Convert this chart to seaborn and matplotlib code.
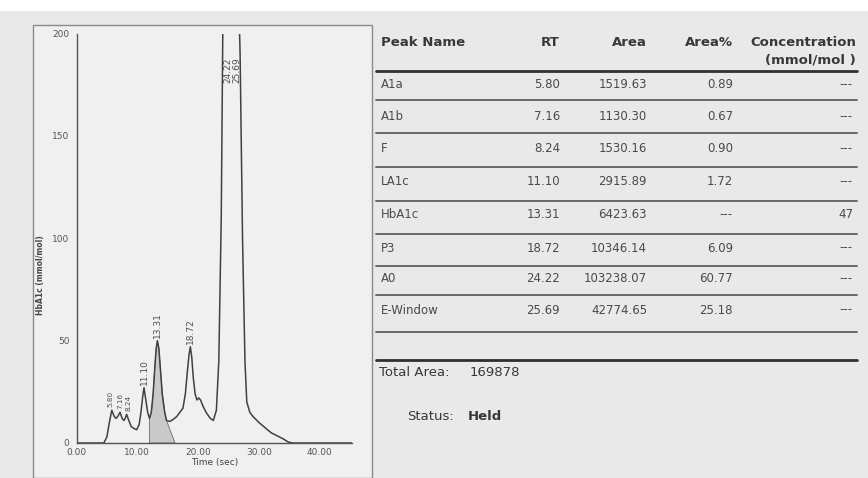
import numpy as np
import matplotlib
matplotlib.use("Agg")
import matplotlib.pyplot as plt
from matplotlib.lines import Line2D
from matplotlib.patches import Rectangle
import seaborn as sns

# ---- chromatogram trace (time in sec, signal in mmol/mol) ----
time = [0.0, 4.5, 5.0, 5.4, 5.8, 6.2, 6.5, 6.8, 7.16, 7.5, 7.8, 8.0, 8.24, 8.6,
        9.0, 9.5, 9.9, 10.3, 10.6, 10.9, 11.1, 11.35, 11.7, 12.0, 12.3, 12.6,
        12.9, 13.1, 13.31, 13.55, 13.8, 14.1, 14.5, 14.8, 15.3, 15.9, 16.5,
        17.0, 17.5, 17.9, 18.2, 18.5, 18.72, 18.95, 19.2, 19.5, 19.8, 20.1,
        20.4, 20.8, 21.3, 22.0, 22.5, 23.0, 23.4, 23.8, 24.22, 25.0, 25.69,
        26.4, 26.9, 27.3, 27.7, 28.0, 28.5, 29.0, 30.0, 31.0, 32.0, 33.0, 34.0,
        34.8, 35.5, 45.3]
signal = [0, 0, 3, 10, 16, 13, 12, 13, 15, 12, 11, 12, 14, 11,
          8, 7, 6.5, 9, 15, 23, 27, 22, 15, 12, 15, 24,
          38, 46, 50, 46, 36, 24, 15, 11, 10.5, 11.5, 13,
          15, 17, 24, 34, 43, 47, 42, 32, 24, 21, 22,
          21, 18, 15, 12, 11, 16, 40, 110, 260, 230, 290,
          250, 190, 100, 40, 20, 15, 13, 10, 7.5, 5, 3.5, 2,
          0.5, 0, 0]

# ---- peak table ----
peak_names = ["A1a", "A1b", "F", "LA1c", "HbA1c", "P3", "A0", "E-Window"]
peak_rt = [5.80, 7.16, 8.24, 11.10, 13.31, 18.72, 24.22, 25.69]
peak_area = ["1519.63", "1130.30", "1530.16", "2915.89", "6423.63",
             "10346.14", "103238.07", "42774.65"]
peak_area_pct = ["0.89", "0.67", "0.90", "1.72", "---", "6.09", "60.77", "25.18"]
peak_conc = ["---", "---", "---", "---", "47", "---", "---", "---"]
total_area = "169878"
status = "Held"

# HbA1c integration window (start, valley, end of baseline skim)
hba1c_start, hba1c_valley, hba1c_end = 12.0, 14.8, 16.2

W, H = 868, 478
sns.set_theme(style="white")
plt.rcParams["font.family"] = ["DejaVu Sans"]

page = "#e9e9e9"
ink = "#383838"
body = "#4a4a4a"
fig = plt.figure(figsize=(W / 100, H / 100), dpi=100, facecolor=page)


def fx(px):
    return px / W


def fy(py):
    return 1 - py / H


# white strip along the top edge of the sheet
fig.add_artist(Rectangle((0, fy(11)), 1, 11 / H, transform=fig.transFigure,
                         facecolor="white", edgecolor="none", zorder=0))
# frame around the chromatogram
fig.add_artist(Rectangle((fx(33), 0), fx(372 - 33), fy(25), transform=fig.transFigure,
                         facecolor="#f0f0f0", edgecolor="#8a8a8a", lw=1.0, zorder=0))

ax = fig.add_axes([fx(76.5), fy(443), fx(352 - 76.5), (443 - 33.5) / H])
ax.set_facecolor("none")

sns.lineplot(x=time, y=signal, ax=ax, color="#404040", lw=1.1, sort=False,
             estimator=None)

# shaded HbA1c peak with a straight skim to baseline
t_arr = np.array(time)
s_arr = np.array(signal, dtype=float)
m = (t_arr >= hba1c_start) & (t_arr <= hba1c_valley)
fill_t = np.concatenate([[hba1c_start], t_arr[m], [hba1c_end]])
fill_s = np.concatenate([[0], s_arr[m], [0]])
ax.fill(fill_t, fill_s, facecolor="#c9c9cc", edgecolor="#707070", lw=0.6, zorder=1)

ax.set_xlim(0, 45.3)
ax.set_ylim(0, 200)
ax.set_xticks([0, 10, 20, 30, 40])
ax.set_xticklabels(["0.00", "10.00", "20.00", "30.00", "40.00"])
ax.set_yticks([0, 50, 100, 150, 200])
ax.tick_params(axis="both", labelsize=6.5, colors="#555555", length=3, width=0.8,
               pad=2)
ax.tick_params(axis="x", direction="inout")
ax.tick_params(axis="y", direction="out")
for side in ["top", "right"]:
    ax.spines[side].set_visible(False)
for side in ["left", "bottom"]:
    ax.spines[side].set_color("#555555")
    ax.spines[side].set_linewidth(1.0)

ax.set_xlabel("Time (sec)", fontsize=6.5, color="#444444", labelpad=1)
fig.text(fx(40), fy(275), "HbA1c (mmol/mol)", rotation=90, fontsize=5.5,
         color="#444444", ha="center", va="center", fontweight="bold")

# retention-time labels above each peak
crowded = {5.80: -0.25, 7.16: 0.0, 8.24: 0.3}
for rt in peak_rt:
    h = float(np.interp(rt, t_arr, s_arr))
    if h > 190:
        ax.text(rt + 0.6, 176, f"{rt:.2f}", rotation=90, fontsize=6.5,
                color="#505050", ha="center", va="bottom")
    elif rt in crowded:
        ax.text(rt + crowded[rt], h + 1.5, f"{rt:.2f}", rotation=90, fontsize=5.2,
                color="#505050", ha="center", va="bottom")
    else:
        ax.text(rt, h + 1.5, f"{rt:.2f}", rotation=90, fontsize=6.5,
                color="#505050", ha="center", va="bottom")

# ---- table ----
hdr = dict(fontsize=9.5, fontweight="bold", color=ink, va="center")
hdr_y = 43
fig.text(fx(381), fy(hdr_y), "Peak Name", ha="left", **hdr)
fig.text(fx(560), fy(hdr_y), "RT", ha="right", **hdr)
fig.text(fx(647), fy(hdr_y), "Area", ha="right", **hdr)
fig.text(fx(733), fy(hdr_y), "Area%", ha="right", **hdr)
fig.text(fx(856), fy(hdr_y), "Concentration", ha="right", **hdr)
fig.text(fx(856), fy(60), "(mmol/mol )", ha="right", **hdr)


def hline(py, lw, color):
    fig.add_artist(Line2D([fx(376), fx(857)], [fy(py), fy(py)], lw=lw,
                          color=color, transform=fig.transFigure))


hline(71, 2.0, "#303030")
row_y = [85, 117, 149, 182, 215, 248, 279, 310]
line_y = [100, 133, 167, 201, 234, 266, 295, 332]
cell = dict(fontsize=8.5, color=body, va="center")
for i, name in enumerate(peak_names):
    y = row_y[i]
    fig.text(fx(381), fy(y), name, ha="left", **cell)
    fig.text(fx(560), fy(y), f"{peak_rt[i]:.2f}", ha="right", **cell)
    fig.text(fx(647), fy(y), peak_area[i], ha="right", **cell)
    fig.text(fx(733), fy(y), peak_area_pct[i], ha="right", **cell)
    fig.text(fx(853), fy(y), peak_conc[i], ha="right", **cell)
    hline(line_y[i], 1.4, "#6a6a6a")

hline(360, 2.0, "#303030")
foot = dict(fontsize=9.5, color=ink, va="center")
fig.text(fx(379), fy(373), "Total Area:", **foot)
fig.text(fx(470), fy(373), total_area, **foot)
fig.text(fx(407), fy(416), "Status:", **foot)
fig.text(fx(468), fy(416), status, fontweight="bold", fontsize=9.5, color=ink,
         va="center")

fig.savefig("out.png", dpi=100, facecolor=page)
